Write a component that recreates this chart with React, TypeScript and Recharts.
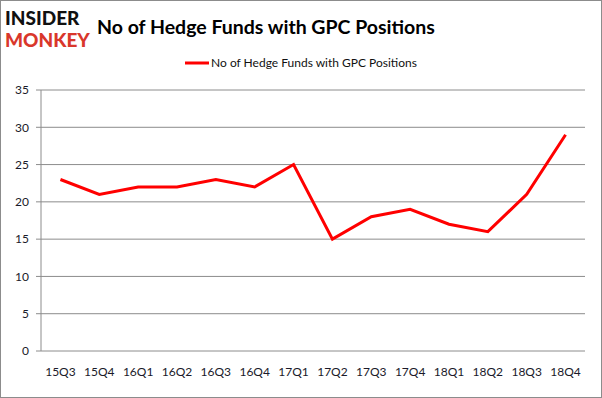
import { LineChart, Line, XAxis, YAxis, CartesianGrid } from "recharts";

const quarters = ["15Q3", "15Q4", "16Q1", "16Q2", "16Q3", "16Q4", "17Q1", "17Q2", "17Q3", "17Q4", "18Q1", "18Q2", "18Q3", "18Q4"];
const hedgeFunds = [23, 21, 22, 22, 23, 22, 25, 15, 18, 19, 17, 16, 21, 29];
const yTicks = [0, 5, 10, 15, 20, 25, 30, 35];
const boundaryTicks = quarters.map((_, i) => i).concat([quarters.length]);

const seriesName = "No of Hedge Funds with GPC Positions";
const data = quarters.map((q, i) => ({ quarter: q, value: hedgeFunds[i] }));

const font = "Lato, 'Open Sans', sans-serif";

export default function App() {
  return (
    <div style={{ position: "absolute", left: 0, top: 0, width: 602, height: 398, boxSizing: "border-box", border: "1px solid #8c8c8c", background: "#fff" }}>
      <div style={{ position: "absolute", left: 4, top: 6, fontFamily: font, fontWeight: 900, lineHeight: "22px", fontSize: 19 }}>
        <div style={{ color: "#111" }}>INSIDER</div>
        <div style={{ color: "#d9372b" }}>MONKEY</div>
      </div>
      <div style={{ position: "absolute", left: 96, top: 14, fontFamily: font, fontWeight: 700, fontSize: 19.5, color: "#000" }}>
        {seriesName}
      </div>
      <div style={{ position: "absolute", left: 0, top: 54, width: 600, display: "flex", justifyContent: "center", alignItems: "center", fontFamily: font, fontSize: 12, color: "#111" }}>
        <svg width={26} height={10}>
          <line x1={0} y1={5} x2={24} y2={5} stroke="#ff0000" strokeWidth={3} />
        </svg>
        <span>{seriesName}</span>
      </div>
      <div style={{ position: "absolute", left: 0, top: 0 }}>
        <LineChart width={600} height={396} data={data} margin={{ top: 89, right: 16, bottom: 0, left: 0 }}>
          <CartesianGrid vertical={false} stroke="#8c8c8c" strokeWidth={1} />
          <XAxis
            xAxisId="grid"
            type="number"
            domain={[0, quarters.length]}
            ticks={boundaryTicks}
            allowDataOverflow
            height={0}
            tickSize={5}
            tickFormatter={() => ""}
            axisLine={{ stroke: "#8c8c8c" }}
            tickLine={{ stroke: "#8c8c8c" }}
          />
          <XAxis
            xAxisId="cat"
            dataKey="quarter"
            scale="band"
            height={46}
            axisLine={false}
            tickLine={false}
            tickSize={5}
            tickMargin={11}
            interval={0}
            tick={{ fill: "#1a1a2a", fontSize: 12, fontFamily: font }}
          />
          <YAxis
            width={40}
            domain={[0, 35]}
            ticks={yTicks}
            interval={0}
            tickSize={5}
            tickMargin={7}
            axisLine={{ stroke: "#8c8c8c" }}
            tickLine={{ stroke: "#8c8c8c" }}
            tick={{ fill: "#1a1a2a", fontSize: 12, fontFamily: font }}
          />
          <Line
            xAxisId="cat"
            type="linear"
            dataKey="value"
            name={seriesName}
            stroke="#ff0000"
            strokeWidth={3}
            dot={false}
            isAnimationActive={false}
          />
        </LineChart>
      </div>
    </div>
  );
}
